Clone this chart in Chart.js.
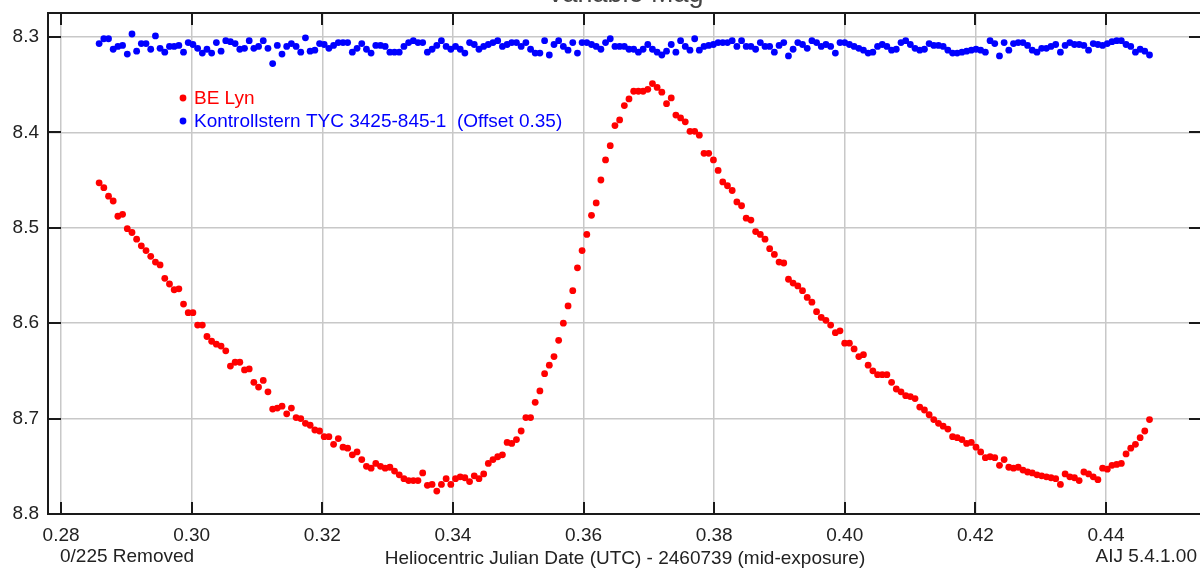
<!DOCTYPE html>
<html><head><meta charset="utf-8">
<script src="https://cdn.jsdelivr.net/npm/chart.js@4"></script>
<style>
html,body{margin:0;padding:0;overflow:hidden;background:#fff;width:1200px;height:569px}
#wrap{position:absolute;left:0;top:0;width:1206px;height:569px}
</style>
</head><body><div id="wrap"><canvas id="c" width="1206" height="569"></canvas></div>
<script>
const titleText = 'Variable Mag';
const xAxisLabel = 'Heliocentric Julian Date (UTC) - 2460739 (mid-exposure)';
const removedLabel = '0/225 Removed';
const versionLabel = 'AIJ 5.4.1.00';
const seriesNames = ['BE Lyn', 'Kontrollstern TYC 3425-845-1  (Offset 0.35)'];
const xTickVals = [0.28, 0.30, 0.32, 0.34, 0.36, 0.38, 0.40, 0.42, 0.44];
const yTickVals = [8.3, 8.4, 8.5, 8.6, 8.7, 8.8];

const hjd = [
0.28583,0.28655,0.28727,0.28798,0.28870,0.28942,0.29014,0.29086,0.29157,0.29229,
0.29301,0.29373,0.29445,0.29516,0.29588,0.29660,0.29732,0.29804,0.29875,0.29947,
0.30019,0.30091,0.30163,0.30234,0.30306,0.30378,0.30450,0.30522,0.30593,0.30665,
0.30737,0.30809,0.30881,0.30952,0.31024,0.31096,0.31168,0.31240,0.31311,0.31383,
0.31455,0.31527,0.31599,0.31670,0.31742,0.31814,0.31886,0.31958,0.32029,0.32101,
0.32173,0.32245,0.32317,0.32388,0.32460,0.32532,0.32604,0.32676,0.32747,0.32819,
0.32891,0.32963,0.33035,0.33106,0.33178,0.33250,0.33322,0.33394,0.33465,0.33537,
0.33609,0.33681,0.33753,0.33824,0.33896,0.33968,0.34040,0.34112,0.34183,0.34255,
0.34327,0.34399,0.34471,0.34542,0.34614,0.34686,0.34758,0.34830,0.34901,0.34973,
0.35045,0.35117,0.35189,0.35260,0.35332,0.35404,0.35476,0.35548,0.35619,0.35691,
0.35763,0.35835,0.35907,0.35978,0.36050,0.36122,0.36194,0.36266,0.36337,0.36409,
0.36481,0.36553,0.36625,0.36696,0.36768,0.36840,0.36912,0.36984,0.37055,0.37127,
0.37199,0.37271,0.37343,0.37414,0.37486,0.37558,0.37630,0.37702,0.37773,0.37845,
0.37917,0.37989,0.38061,0.38132,0.38204,0.38276,0.38348,0.38420,0.38491,0.38563,
0.38635,0.38707,0.38779,0.38850,0.38922,0.38994,0.39066,0.39138,0.39209,0.39281,
0.39353,0.39425,0.39497,0.39568,0.39640,0.39712,0.39784,0.39856,0.39927,0.39999,
0.40071,0.40143,0.40215,0.40286,0.40358,0.40430,0.40502,0.40574,0.40645,0.40717,
0.40789,0.40861,0.40933,0.41004,0.41076,0.41148,0.41220,0.41292,0.41363,0.41435,
0.41507,0.41579,0.41651,0.41722,0.41794,0.41866,0.41938,0.42010,0.42081,0.42153,
0.42225,0.42297,0.42369,0.42440,0.42512,0.42584,0.42656,0.42728,0.42799,0.42871,
0.42943,0.43015,0.43087,0.43158,0.43230,0.43302,0.43374,0.43446,0.43517,0.43589,
0.43661,0.43733,0.43805,0.43876,0.43948,0.44020,0.44092,0.44164,0.44235,0.44307,
0.44379,0.44451,0.44523,0.44594,0.44666
];

const beLyn = [
8.453,8.458,8.467,8.472,8.488,8.486,8.501,8.505,8.512,8.519,
8.524,8.530,8.536,8.539,8.553,8.559,8.565,8.564,8.580,8.589,
8.589,8.602,8.602,8.614,8.619,8.622,8.624,8.629,8.645,8.641,
8.641,8.649,8.648,8.662,8.667,8.660,8.672,8.690,8.689,8.687,
8.695,8.689,8.699,8.700,8.705,8.707,8.712,8.713,8.719,8.719,
8.727,8.721,8.730,8.731,8.738,8.735,8.743,8.750,8.752,8.747,
8.750,8.752,8.751,8.755,8.759,8.763,8.765,8.765,8.765,8.757,
8.770,8.769,8.776,8.769,8.763,8.769,8.763,8.761,8.762,8.766,
8.760,8.763,8.758,8.747,8.743,8.740,8.738,8.725,8.726,8.722,
8.713,8.699,8.699,8.683,8.671,8.653,8.644,8.635,8.618,8.600,
8.582,8.566,8.542,8.524,8.507,8.487,8.474,8.450,8.429,8.414,
8.393,8.387,8.372,8.365,8.357,8.357,8.357,8.355,8.349,8.353,
8.358,8.370,8.364,8.382,8.385,8.389,8.399,8.399,8.403,8.422,
8.422,8.429,8.440,8.452,8.456,8.461,8.473,8.477,8.490,8.492,
8.504,8.507,8.512,8.522,8.528,8.536,8.537,8.554,8.558,8.561,
8.566,8.573,8.578,8.588,8.594,8.597,8.602,8.610,8.608,8.621,
8.621,8.627,8.635,8.633,8.644,8.650,8.654,8.654,8.654,8.662,
8.669,8.672,8.676,8.677,8.679,8.688,8.691,8.696,8.701,8.705,
8.708,8.711,8.719,8.720,8.722,8.726,8.725,8.730,8.735,8.741,
8.740,8.741,8.749,8.743,8.751,8.752,8.751,8.754,8.756,8.757,
8.759,8.760,8.761,8.762,8.763,8.769,8.758,8.761,8.762,8.765,
8.756,8.758,8.761,8.764,8.752,8.753,8.749,8.748,8.747,8.737,
8.731,8.727,8.720,8.713,8.701
];

const kontrollstern = [
8.307,8.302,8.302,8.313,8.310,8.309,8.318,8.297,8.315,8.307,
8.307,8.313,8.299,8.312,8.316,8.310,8.310,8.309,8.316,8.306,
8.308,8.312,8.317,8.313,8.317,8.306,8.315,8.304,8.305,8.307,
8.313,8.312,8.304,8.312,8.310,8.304,8.312,8.328,8.309,8.318,
8.310,8.307,8.310,8.316,8.301,8.315,8.314,8.307,8.308,8.312,
8.309,8.306,8.306,8.306,8.316,8.312,8.307,8.313,8.317,8.309,
8.309,8.310,8.316,8.316,8.316,8.310,8.306,8.304,8.306,8.306,
8.316,8.313,8.309,8.304,8.310,8.313,8.310,8.313,8.317,8.306,
8.308,8.313,8.310,8.308,8.306,8.304,8.310,8.308,8.306,8.306,
8.310,8.306,8.313,8.317,8.317,8.304,8.319,8.308,8.304,8.310,
8.314,8.306,8.317,8.306,8.306,8.308,8.310,8.313,8.306,8.302,
8.310,8.310,8.310,8.313,8.313,8.316,8.313,8.308,8.313,8.316,
8.319,8.315,8.308,8.316,8.304,8.310,8.314,8.302,8.314,8.310,
8.309,8.308,8.306,8.306,8.306,8.304,8.310,8.304,8.310,8.310,
8.313,8.306,8.310,8.310,8.316,8.309,8.306,8.320,8.313,8.306,
8.308,8.312,8.304,8.306,8.310,8.308,8.310,8.317,8.306,8.306,
8.308,8.310,8.312,8.314,8.317,8.316,8.310,8.308,8.310,8.314,
8.313,8.306,8.304,8.308,8.312,8.314,8.313,8.307,8.309,8.309,
8.310,8.314,8.317,8.317,8.316,8.315,8.314,8.313,8.314,8.316,
8.304,8.307,8.320,8.306,8.314,8.307,8.306,8.306,8.309,8.314,
8.316,8.312,8.312,8.310,8.308,8.316,8.309,8.306,8.308,8.308,
8.309,8.314,8.307,8.308,8.309,8.307,8.305,8.304,8.304,8.308,
8.310,8.316,8.313,8.315,8.319
];

const seriesColors = ['#ff0000', '#0000ff'];
const FONT = '"Liberation Sans", Arial, Helvetica, sans-serif';

const framePlugin = {
  id: 'frame',
  afterDraw(chart) {
    const ctx = chart.ctx;
    const {left, right, top, bottom} = chart.chartArea;
    const xs = chart.scales.x, ys = chart.scales.y;
    ctx.save();
    ctx.strokeStyle = '#1a1a1a';
    ctx.lineWidth = 2;
    ctx.strokeRect(left, top, right - left, bottom - top);
    ctx.beginPath();
    xTickVals.forEach(v => {
      const px = Math.round(xs.getPixelForValue(v));
      ctx.moveTo(px, top); ctx.lineTo(px, top + 12);
      ctx.moveTo(px, bottom); ctx.lineTo(px, bottom - 12);
    });
    yTickVals.forEach(v => {
      const py = Math.round(ys.getPixelForValue(v));
      ctx.moveTo(left, py); ctx.lineTo(left + 13, py);
      ctx.moveTo(right, py); ctx.lineTo(right - 13, py);
    });
    ctx.stroke();

    // title (partly cut off at the top of the picture)
    ctx.font = '27px ' + FONT;
    ctx.fillStyle = '#444';
    ctx.textAlign = 'center';
    ctx.textBaseline = 'alphabetic';
    ctx.fillText(titleText, (left + right) / 2, 2);

    // bottom labels
    ctx.font = '19px ' + FONT;
    ctx.fillStyle = '#222';
    ctx.textAlign = 'center';
    ctx.fillText(xAxisLabel, (left + right) / 2, 564);
    ctx.textAlign = 'left';
    ctx.fillText(removedLabel, 60, 562);
    ctx.textAlign = 'right';
    ctx.fillText(versionLabel, 1197, 562);

    // legend inside plot
    const legendY = [104, 127];
    seriesNames.forEach((name, i) => {
      ctx.fillStyle = seriesColors[i];
      ctx.beginPath();
      ctx.arc(183, legendY[i] - 6, 3.4, 0, Math.PI * 2);
      ctx.fill();
      ctx.textAlign = 'left';
      ctx.fillText(name, 194, legendY[i]);
    });
    ctx.restore();
  }
};

const mkData = ys => hjd.map((x, i) => ({x: x, y: ys[i]}));

new Chart(document.getElementById('c').getContext('2d'), {
  type: 'scatter',
  data: {
    datasets: [
      {label: seriesNames[0], data: mkData(beLyn), backgroundColor: seriesColors[0], borderWidth: 0, pointRadius: 3.4, pointHoverRadius: 3.4},
      {label: seriesNames[1], data: mkData(kontrollstern), backgroundColor: seriesColors[1], borderWidth: 0, pointRadius: 3.4, pointHoverRadius: 3.4}
    ]
  },
  options: {
    responsive: false,
    animation: false,
    devicePixelRatio: 1,
    layout: {padding: {top: 13, right: 4, left: 0, bottom: 0}},
    plugins: {legend: {display: false}, tooltip: {enabled: false}, title: {display: false}},
    scales: {
      x: {
        type: 'linear', min: 0.278, max: 0.4547,
        afterBuildTicks: s => { s.ticks = xTickVals.map(v => ({value: v})); },
        afterFit: s => { s.height = 55; s.paddingLeft = 0; s.paddingRight = 0; },
        grid: {color: '#c8c8c8', lineWidth: 1.5, drawTicks: false},
        border: {display: false},
        ticks: {padding: 10, color: '#222', font: {family: FONT, size: 19}, maxRotation: 0, autoSkip: false,
          callback: v => Number(v).toFixed(2)}
      },
      y: {
        type: 'linear', reverse: true, min: 8.275, max: 8.8,
        afterBuildTicks: s => { s.ticks = yTickVals.map(v => ({value: v})); },
        afterFit: s => { s.width = 48; s.paddingTop = 0; s.paddingBottom = 0; },
        grid: {color: '#c8c8c8', lineWidth: 1.5, drawTicks: false},
        border: {display: false},
        ticks: {padding: 9, color: '#222', font: {family: FONT, size: 19}, autoSkip: false,
          callback: v => Number(v).toFixed(1)}
      }
    }
  },
  plugins: [framePlugin]
});
</script>
</body></html>
